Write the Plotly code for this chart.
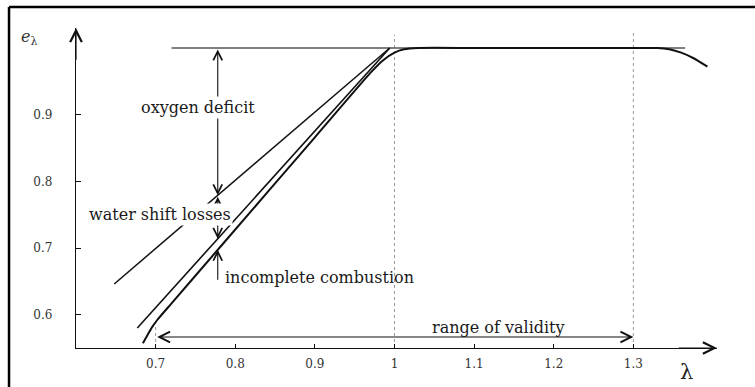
import numpy as np
import plotly.graph_objects as go

# ---- data ----
lam_A = [0.648, 0.994]            # oxygen-deficit line (upper)
e_A = [0.646, 1.000]
lam_B = [0.677, 0.994]            # water-shift line (middle)
e_B = [0.580, 1.000]
lam_C = [0.684, 0.690, 0.696, 0.702, 0.720, 0.780, 0.900, 0.970, 0.985,
         1.000, 1.012, 1.030, 1.100, 1.200, 1.300, 1.330, 1.345, 1.360,
         1.375, 1.393]            # efficiency curve e_lambda
e_C = [0.557, 0.570, 0.582, 0.592, 0.617, 0.700, 0.866, 0.963, 0.981,
       0.993, 0.998, 1.000, 1.000, 1.000, 1.000, 1.000, 0.998, 0.993,
       0.985, 0.972]
lam_top = [0.72, 1.365]           # ideal efficiency line
e_top = [1.0, 1.0]
lam_marks = [0.7, 1.0, 1.3]       # dotted vertical markers
e_mark_top = [0.595, 1.020, 1.027]
lam_valid = [0.70, 1.30]          # range of validity
e_valid = 0.5665
lam_loss = 0.778                  # position of loss arrows
e_incomplete_low = 0.650

x_ticks = [0.7, 0.8, 0.9, 1.0, 1.1, 1.2, 1.3]
x_ticklabels = ["0.7", "0.8", "0.9", "1", "1.1", "1.2", "1.3"]
y_ticks = [0.6, 0.7, 0.8, 0.9]
y_ticklabels = ["0.6", "0.7", "0.8", "0.9"]
x_range = [0.6, 1.405]
y_range = [0.55, 1.03]

# loss levels at lam_loss
eA = float(np.interp(lam_loss, lam_A, e_A))
eB = float(np.interp(lam_loss, lam_B, e_B))
eC = float(np.interp(lam_loss, lam_C, e_C))

SERIF = "DejaVu Serif"
fig = go.Figure()

for lx, ly in zip(lam_marks, e_mark_top):
    fig.add_trace(go.Scatter(x=[lx, lx], y=[y_range[0], ly], mode="lines",
                             line=dict(color="#9a9a9a", width=1, dash="dot"),
                             hoverinfo="skip", cliponaxis=False))

fig.add_trace(go.Scatter(x=lam_top, y=e_top, mode="lines",
                         line=dict(color="#555555", width=1.6), hoverinfo="skip"))
fig.add_trace(go.Scatter(x=lam_A, y=e_A, mode="lines",
                         line=dict(color="#111111", width=1.5), hoverinfo="skip"))
fig.add_trace(go.Scatter(x=lam_B, y=e_B, mode="lines",
                         line=dict(color="#111111", width=1.6), hoverinfo="skip"))
fig.add_trace(go.Scatter(x=lam_C, y=e_C, mode="lines",
                         line=dict(color="#111111", width=2, shape="spline", smoothing=0.6),
                         hoverinfo="skip"))

anns = []
def arrow(x, y, ax, ay, side="end", head=5, size=1.6, width=1.1):
    anns.append(dict(x=x, y=y, ax=ax, ay=ay, xref="x", yref="y", axref="x", ayref="y",
                     text="", showarrow=True, arrowhead=head, startarrowhead=head,
                     arrowside=side, arrowsize=size, startarrowsize=size,
                     arrowwidth=width, arrowcolor="#111111", standoff=0, startstandoff=0))

# axis arrows
arrow(x_range[0], y_range[1], x_range[0], y_range[1] - 0.05, size=1.9, width=1.2)
arrow(x_range[1], y_range[0], x_range[1] - 0.05, y_range[0], size=1.9, width=1.2)
# loss arrows
arrow(lam_loss, eA, lam_loss, 1.0, side="end+start")
arrow(lam_loss, eB, lam_loss, eA, side="end+start")
arrow(lam_loss, eC, lam_loss, e_incomplete_low)
# range of validity
arrow(lam_valid[1], e_valid, lam_valid[0], e_valid, side="end+start", size=1.9)

def label(x, y, text, size=16, xanchor="center", bg=None):
    d = dict(x=x, y=y, xref="x", yref="y", text=text, showarrow=False,
             xanchor=xanchor, yanchor="middle",
             font=dict(family=SERIF, size=size, color="#1a1a1a"))
    if bg:
        d["bgcolor"] = bg
    anns.append(d)

label(0.7527, 0.9115, "oxygen deficit", bg="white")
label(0.7055, 0.751, "water shift losses", bg="white")
label(0.784, 0.6565, "incomplete combustion", xanchor="left")
label(1.130, 0.5815, "range of validity")

anns.append(dict(x=-0.072, y=0.969, xref="paper", yref="paper",
                 xanchor="center", yanchor="middle",
                 text="<i>e</i><sub>λ</sub>", showarrow=False,
                 font=dict(family=SERIF, size=16, color="#333333")))
anns.append(dict(x=0.953, y=-0.075, xref="paper", yref="paper",
                 xanchor="center", yanchor="middle",
                 text="λ", showarrow=False,
                 font=dict(family=SERIF, size=21, color="#222222")))

fig.update_layout(
    width=755, height=387,
    margin=dict(l=76, r=38, t=28, b=39),
    paper_bgcolor="white", plot_bgcolor="white",
    showlegend=False,
    annotations=anns,
    shapes=[
        dict(type="line", xref="paper", yref="paper", x0=-0.1045, x1=1.1, y0=1.0656, y1=1.0656,
             line=dict(color="black", width=2.5)),
        dict(type="line", xref="paper", yref="paper", x0=-0.1045, x1=-0.1045, y0=1.0656, y1=-0.2,
             line=dict(color="black", width=2.5)),
    ],
)
fig.update_xaxes(range=x_range, tickvals=x_ticks, ticktext=x_ticklabels,
                 showline=True, linecolor="#111111", linewidth=1.4,
                 ticks="inside", ticklen=4, tickcolor="#111111", tickwidth=1.2,
                 showgrid=False, zeroline=False, ticklabelstandoff=4,
                 tickfont=dict(family=SERIF, size=12, color="#333333"))
fig.update_yaxes(range=y_range, tickvals=y_ticks, ticktext=y_ticklabels,
                 showline=True, linecolor="#111111", linewidth=1.4,
                 ticks="inside", ticklen=5, tickcolor="#111111", tickwidth=1.2,
                 showgrid=False, zeroline=False, ticklabelstandoff=20,
                 tickfont=dict(family=SERIF, size=12, color="#333333"))

fig.write_html("out.html")
